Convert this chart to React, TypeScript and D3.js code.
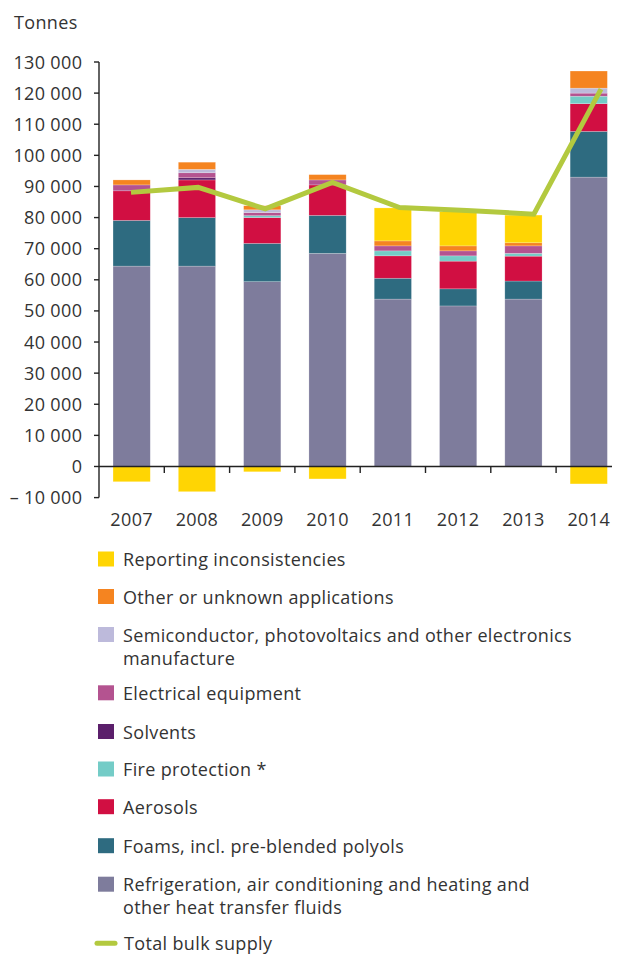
import React from "react";
import * as d3 from "d3";

const years = ["2007", "2008", "2009", "2010", "2011", "2012", "2013", "2014"];

const refrigeration = [64400, 64400, 59400, 68500, 53800, 51600, 53800, 93000];
const foams = [14700, 15600, 12300, 12200, 6700, 5500, 5800, 14700];
const aerosols = [9500, 12100, 8300, 9800, 7200, 8900, 8000, 8900];
const fireProtection = [0, 0, 600, 0, 1600, 1700, 900, 2400];
const solvents = [0, 700, 0, 0, 0, 0, 0, 0];
const electrical = [1900, 1600, 1000, 1600, 1600, 1600, 2400, 1000];
const semiconductor = [0, 1100, 900, 0, 0, 0, 0, 1600];
const otherApps = [1600, 2300, 1300, 1700, 1600, 1600, 1000, 5500];
const reporting = [-4900, -8100, -1700, -4000, 10600, 11000, 8900, -5600];
const totalBulk = [88100, 89700, 82800, 91300, 83200, 82300, 81100, 121300];

const yTicks = [-10000, 0, 10000, 20000, 30000, 40000, 50000, 60000, 70000, 80000, 90000, 100000, 110000, 120000, 130000];

const seriesKeys = ["refrigeration", "foams", "aerosols", "fire", "solvents", "electrical", "semiconductor", "other", "reporting"];
const seriesValues: Record<string, number[]> = {
  refrigeration,
  foams,
  aerosols,
  fire: fireProtection,
  solvents,
  electrical,
  semiconductor,
  other: otherApps,
  reporting,
};
const colors: Record<string, string> = {
  refrigeration: "#7e7c9c",
  foams: "#2e6b80",
  aerosols: "#d10f42",
  fire: "#74ccc7",
  solvents: "#5b1f6b",
  electrical: "#b45390",
  semiconductor: "#bdbadb",
  other: "#f58420",
  reporting: "#ffd503",
};

const legendItems: { key: string; lines: string[] }[] = [
  { key: "reporting", lines: ["Reporting inconsistencies"] },
  { key: "other", lines: ["Other or unknown applications"] },
  { key: "semiconductor", lines: ["Semiconductor, photovoltaics and other electronics", "manufacture"] },
  { key: "electrical", lines: ["Electrical equipment"] },
  { key: "solvents", lines: ["Solvents"] },
  { key: "fire", lines: ["Fire protection *"] },
  { key: "aerosols", lines: ["Aerosols"] },
  { key: "foams", lines: ["Foams, incl. pre-blended polyols"] },
  { key: "refrigeration", lines: ["Refrigeration, air conditioning and heating and", "other heat transfer fluids"] },
];
const totalLabel = "Total bulk supply";

const FONT = "'Open Sans', 'Noto Sans', sans-serif";
const TEXT = "#333333";
const LINE_COLOR = "#b3c93f";
const FS = 18;
const LS = 0.35;

export default function App() {
  const W = 626;
  const H = 954;
  const x = d3.scaleBand<string>().domain(years).range([99, 621.4]).paddingInner(0.43).paddingOuter(0.215);
  const y = d3.scaleLinear().domain([-10000, 130000]).range([497.6, 62]);
  const lineX = d3.scalePoint<string>().domain(years).range([131, 601]);

  const rows = years.map((yr, i) => {
    const r: any = { year: yr };
    seriesKeys.forEach((k) => (r[k] = seriesValues[k][i]));
    return r;
  });
  const stacked = d3.stack<any>().keys(seriesKeys).offset(d3.stackOffsetDiverging)(rows);

  const line = d3
    .line<number>()
    .x((_, i) => lineX(years[i]) as number)
    .y((d) => y(d));

  const fmt = (v: number) => {
    const s = d3.format(",")(Math.abs(v)).replace(/,/g, " ");
    return v < 0 ? "\u2013 " + s : s;
  };

  const boundaries = years.slice(1).map((yr) => (x(yr) as number) - (x.step() * x.paddingInner()) / 2);

  const centers = [559, 596.5, 634.5, 692.8, 731.5, 769, 806.7, 845.7, 884.2];
  const legendRows = legendItems.map((it, i) => ({ ...it, cy: centers[i] }));

  return (
    <div style={{ position: "absolute", left: 0, top: 0 }}>
      <svg width={W} height={H} style={{ display: "block" }} fontFamily={FONT} letterSpacing={LS}>
        <rect x={0} y={0} width={W} height={H} fill="#ffffff" />
        <text x={14} y={29} fontSize={FS} fill={TEXT}>
          Tonnes
        </text>

        {stacked.map((s) => (
          <g key={s.key} fill={colors[s.key]}>
            {s.map((d, i) => {
              const y0 = y(d[0]);
              const y1 = y(d[1]);
              const h = Math.abs(y0 - y1);
              if (h < 0.01) return null;
              return (
                <rect
                  key={i}
                  x={x(years[i])}
                  y={Math.min(y0, y1)}
                  width={x.bandwidth()}
                  height={h}
                  stroke="#ffffff"
                  strokeOpacity={0.35}
                  strokeWidth={0.6}
                />
              );
            })}
          </g>
        ))}

        {/* y axis */}
        <line x1={99} x2={99} y1={y(130000)} y2={y(-10000)} stroke="#222" strokeWidth={1.4} />
        {yTicks.map((t) => (
          <g key={t}>
            <line x1={94} x2={99} y1={y(t)} y2={y(t)} stroke="#222" strokeWidth={1.4} />
            <text x={82.3} y={y(t) + 6.5} fontSize={FS} textAnchor="end" fill={TEXT}>
              {fmt(t)}
            </text>
          </g>
        ))}

        {/* x axis */}
        <line x1={99} x2={612} y1={y(0)} y2={y(0)} stroke="#222" strokeWidth={1.4} />
        {boundaries.map((bx, i) => (
          <line key={i} x1={bx} x2={bx} y1={y(0)} y2={y(0) + 6.5} stroke="#222" strokeWidth={1.4} />
        ))}
        {years.map((yr) => (
          <text
            key={yr}
            x={(x(yr) as number) + x.bandwidth() / 2}
            y={525.5}
            fontSize={FS}
            textAnchor="middle"
            fill={TEXT}
          >
            {yr}
          </text>
        ))}

        {/* total line */}
        <path d={line(totalBulk) || ""} fill="none" stroke={LINE_COLOR} strokeWidth={5} strokeLinejoin="miter" />

        {/* legend */}
        {legendRows.map((it) => (
          <g key={it.key}>
            <rect x={98} y={it.cy - 7.5} width={16} height={15} fill={colors[it.key]} />
            {it.lines.map((ln, j) => (
              <text key={j} x={123} y={it.cy + 7 + j * 23} fontSize={FS} fill={TEXT}>
                {ln}
              </text>
            ))}
          </g>
        ))}
        <line x1={97} x2={115} y1={943.3} y2={943.3} stroke={LINE_COLOR} strokeWidth={5} strokeLinecap="round" />
        <text x={124} y={950.3} fontSize={FS} fill={TEXT}>
          {totalLabel}
        </text>
      </svg>
    </div>
  );
}
